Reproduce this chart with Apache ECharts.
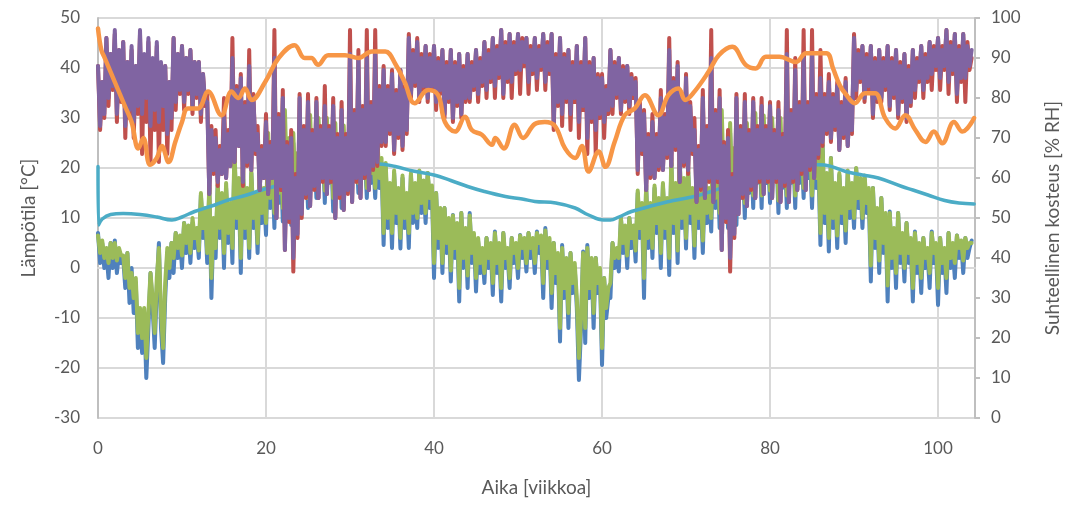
<!DOCTYPE html>
<html>
<head>
<meta charset="utf-8">
<script src="https://cdn.jsdelivr.net/npm/echarts@6/dist/echarts.min.js"></script>
<style>
  html, body { margin: 0; padding: 0; background: #ffffff; }
  #chart { width: 1080px; height: 507px; }
</style>
</head>
<body>
<div id="chart"></div>
<script>
// Time step of the dense series: four readings per week, weeks 0..104
const STEP_WEEKS = 0.25;

// Outdoor temperature [°C]; one row = ten weeks
const tempOut = [
  7,1,5,0, 3,-2,5,0, 5.5,-1,3,1, 2,-4,3,-7, 0,-9,-3,-16, -10,-17,-9,-22, -12,-1,-8,-16, -4,5,-12,-19, -6,3,-2,5, -1,7,2,6,
  0,9,3,8, 1,9,4,7, 2,14.6,6,11, 1,16,-6,9, 2,16.6,6,14, 0,16,5,12, 1,23,8,17, -1,20,6,15, 2,19,8,14, 3,17,9,15,
  6.6,25,12,20, 8,27,13,22, 9.3,27,14,24, 8.6,25,12,21, 10,26,15,22, 12,28,17,24, 14,27,18,25, 13,27,17,24, 11.3,26,16,23, 12,26,17,22,
  16,26,19,24, 15,25,18,23, 14,24,17,22, 14,24,16,21, 4.6,20,8,16, 4,19,9,15, 3.9,18,8,14, 4,18.6,9,16, 8,19.3,11,17, 9,19,12,16,
  -2,15,4,11, -1,12,3,9, -2.7,10.6,2,8, -6.7,11,0,7, -4,11,1,6, -4.7,5.3,-1,3, -3,6,0,4, -5.4,7.3,-1,4, -6.7,7,0,3, -4,6,1,4,
  -2,6.6,2,5, -0.7,7,2,5, -1,7.3,3,6, -6,8,0,5, -8,5,-3,2, -14.7,4.6,-6,1, -12,3,-5,0, -8,-22.4,-12,3.3, -15,4.6,-6,1, -12,2,-5,-1,
  -19.4,-2,-10,-6, -6,5,0,3, -0.7,10,3,8, 0,10,4,8, 1.3,15,6,12, -6,16.6,4,12, 2,16,7,13, 0,16.6,6,13, -1.4,21,7,16, 1,21.3,8,17,
  3.9,19.3,9,15, 2,17.3,8,14, 3,18,9,15, 7.3,25,12,21, 8,28,14,23, 8,27,13,22, 8.6,26,14,21, 10,27,15,23, 12,28,17,24, 12,27,17,23,
  13,27,18,24, 11,27,16,23, 12,28,17,24, 12,27,17,23, 14,26,18,23, 12,25,16,22, 4.6,24.6,9,18, 3.3,22,8,16, 4,18.6,9,15, 5,19,10,16,
  8,19.9,12,17, 8,18,11,15, -2.7,16,4,11, -1,14,3,10, -6.7,11.3,0,7, -4,11,1,6, -2.7,9,1,5, -6.7,7.3,-1,4, -5,6,0,3, -4,7.3,1,4,
  -7.4,6,-1,3, -5,7,0,4, -2,6.5,2,5, -1,6,2,4, 5.5
];

// Temperature of the ventilated space [°C]
const tempSpace = [
  6.5,3,5.5,2, 4,1,5,2, 5,1.5,4,2.5, 2.5,-2,3,-4, -1,-6,-2,-13, -8,-14,-8,-18, -9,-1,-6,-13, -2,4,-9,-16, -3,4,0,5, 2,7,4,6.5,
  2.5,9,5,8.5, 3,10,6,8, 3.5,15,8,12, 3,16.5,-2,10, 4,17,8,15, 3,17,7,13, 4,24,10,18, 2,21,8,16, 4,19.5,10,15, 5,18,11,16,
  9,27,14,22, 11,30,15,24, 12,31.6,17,26, 11,27,15,23, 13,28,17,24, 14,30.6,19,26, 16,30,20,27, 15.5,30,19,26, 14,29,18,25, 14.5,28.5,19,24,
  18,27.5,21,25, 17,27,20,24, 16,26,19,23, 16,26,18,22, 7,21,10,17, 7,19.5,11,16, 6,18.5,10,15, 7,19,11,17, 10,19.5,13,17.5, 11,19,14,16.5,
  1,15,6,12, 1,12,5,10, -0.5,10.5,4,9, -4,11,2,8, -1.5,10.5,3,7, -2,6,1,4, -1,6,2,5, -3,7,1,5, -4,7,2,4, -2,6,3,5,
  0,6.5,4,6, 1,7,4,6, 1,7,5,6.5, -3,7.5,2,6, -5,5,-1,3, -12,4,-4,2, -9,3,-3,1, -6,-18,-10,3, -12,4,-4,2, -9,2,-3,0,
  -16,-2,-8,-4, -3,5,2,4, 2,10,5,8.5, 2.5,10,6,8.5, 3.5,15.5,8,13, -2,16.5,6,13, 4,16.5,9,14, 3,17,8,14, 2,22,9,17, 3.5,22,10,18,
  6,20,11,16, 4.5,18,10,15, 5.5,19,11,16, 10,27,14,23, 11,31.6,16,25, 11,29,15,24, 11.5,28,16,23, 13,29,17,25, 14.5,31,19,26, 14.5,30.5,19,25,
  15.5,30,20,26, 13.5,30,18,25, 14.5,30.6,19,26, 14.5,29,19,25, 16,28,20,25, 14.5,27,18,24, 7,25,11,19, 6,22,10,17, 6.5,19,11,16, 7.5,19.5,12,17,
  10,20,14,18, 10,18.5,13,16, 0.5,16,6,12, 1.5,14,5,11, -3.5,11,2,8, -1,11,3,7, 0,9,3,6, -4,7,1,5, -2,6,2,4, -1,7,3,5,
  -4,6,1,4, -2,7,2,5, 1,6.5,4,5.5, 1.5,6,4,5, 5
];

// Outdoor relative humidity [% RH]
const rhOut = [
  88,72,84,75, 95,78,91,82, 96,74,92,79, 94,70,89,75, 92,70,88,76, 96,66,90,74, 94,64,89,72, 93,64,88,72, 88,66,84,72, 95,77,91,81,
  93,77,90,81, 92,76,89,80, 89,74,86,78, 81,56,73,61, 72,58,68,61, 80,60,72,63, 95,64,83,68, 86,58,79,63, 92,62,81,66, 73,57,68,60,
  76,56,69,60, 97,50,76,57, 82,42,69,49, 72,36.6,61,45, 81,50,73,55, 81,53,72,57, 80,55,73,59, 83,56,73,59, 80,50,71,55, 79,52,71,56,
  97,54,77,59, 92,55,78,60, 97,57,79,62, 97,63,83,68, 88,68,83,71, 87,66,82,70, 87,67,83,71, 96,80,92,83, 95,79,91,82, 93,79,91,82,
  93,77,90,81, 92,75,89,79, 92,74,89,78, 91,75,88,79, 91,79,89,82, 92,79,90,83, 94,80,92,84, 95,80,93,85, 97,80,94,84, 96,80,94,86,
  96,81,95,88, 95,81,93,86, 95,82,93,87, 96,82,94,86, 96,72,91,78, 95,73,91,79, 92,72,89,79, 93,70,89,77, 95,66,89,74, 90,66,86,75,
  86,70,83,76, 92,76,89,80, 90,76,88,79, 88,76,86,80, 85,61,79,66, 77,57,71,60, 76,60,71,62, 82,62,76,65, 95,63,85,67, 89,59,81,63,
  86,61,79,66, 75,54,68,57, 82,55,73,59, 97,54,77,59, 82,42,69,49, 72,36.6,61,45, 81,51,73,55, 81,53,72,57, 80,55,73,59, 80,56,73,59,
  79,55,72,59, 79,54,71,58, 97,54,77,59, 90,57,79,61, 97,57,79,62, 97,60,81,65, 92,68,81,71, 86,69,81,72, 84,67,79,70, 85,68,80,71,
  96,80,92,84, 93,79,91,82, 93,75,90,79, 92,79,90,82, 93,77,90,80, 92,75,89,79, 91,74,88,78, 92,80,90,84, 93,80,91,84, 94,82,93,87,
  95,82,93,87, 97,81,94,86, 96,79,93,84, 96,79,94,87, 90
];

// Relative humidity of the ventilated space [% RH]
const rhSpace = [
  88,73,84,76, 95,80,91,83, 97,76,92,80, 94,73,89,77, 93,74,88,78, 97,76,91,80, 95,73,90,77, 94,74,89,78, 88,71,84,75, 95,79,91,82,
  93,79,90,82, 92,78,89,81, 89,76,86,79, 79,56,72,62, 70,59,67,61, 75,60,71,63, 90,64,82,68, 85,59,78,64, 88,62,80,67, 71,57,67,60,
  74,56,68,60, 90,50,75,58, 80,42,68,50, 70,40,60,46, 80,51,72,56, 79,53,71,58, 79,55,72,60, 78,56,72,60, 78,50,70,56, 77,52,70,57,
  91,54,76,60, 90,55,77,61, 90,57,78,63, 91,64,82,69, 87,69,82,72, 86,67,81,71, 87,68,82,72, 95,81,91,84, 94,80,90,83, 93,80,90,83,
  93,79,89,82, 92,76,88,80, 92,75,88,79, 91,76,87,80, 91,80,88,83, 92,81,89,84, 94,82,91,85, 95,83,92,86, 97,81,93,85, 96,84,93,87,
  96,87,94,89, 95,84,92,87, 95,85,92,88, 96,84,93,87, 96,74,90,79, 95,76,90,80, 92,76,88,80, 93,74,88,78, 95,70,88,75, 90,72,85,76,
  85,74,82,77, 92,78,88,81, 90,77,87,80, 88,78,85,81, 84,62,78,67, 76,57,70,61, 74,60,70,63, 80,62,75,66, 92,63,84,68, 88,59,80,64,
  85,62,78,67, 72,54,67,58, 80,55,72,60, 90,54,76,60, 80,42,68,50, 70,40,60,46, 80,51,72,56, 79,53,71,58, 79,55,72,60, 78,56,72,60,
  78,55,71,60, 77,54,70,59, 91,54,76,60, 87,57,78,62, 90,57,78,63, 91,60,80,66, 85,69,80,72, 84,70,80,73, 83,67,78,71, 84,68,79,72,
  95,82,91,85, 93,80,90,83, 93,76,89,80, 92,80,89,83, 93,78,89,81, 92,76,88,80, 91,75,87,79, 92,82,89,85, 93,82,90,85, 94,86,92,88,
  95,85,92,88, 97,84,93,87, 96,81,92,85, 96,85,93,88, 92
];

// Structure temperature [°C] at given weeks
const structWeeks = [0,0.05,0.5,1.5,3,5,7,8.8,10,11.5,13.9,15.5,17.5,19.5,21.5,23.5,25.4,27.5,29.4,31.5,33.5,35.4,37.5,40,42,44,46,48.5,50.5,52,54.5,56.8,58.4,60.2,61,62,63.5,65,66.3,68.5,71,73,74.6,76.5,78.5,80.5,82.6,85,86.5,89,91,92.9,95.7,97,98.8,100.8,102.5,104.3];
const structTemp  = [20.3,8.6,9.8,10.7,10.9,10.7,10.2,9.6,10.2,11.3,12.6,13.6,14.5,15.6,16.6,18,19.3,20,20.3,20.6,20.8,20.3,19.4,18.6,17.5,16.3,15.3,14.3,13.8,13.3,13,12,10.6,9.6,9.6,10.2,11.3,12,12.6,13.5,14.3,15.3,16.3,17.7,19,19.7,20.1,20.7,20.6,19.3,18.6,18,16.3,15.6,14.6,13.5,13,12.8];

// Structure relative humidity [% RH] at given weeks
const structRhWeeks = [0,0.4,0.8,2,3.2,4,4.8,5.4,6.2,7,7.6,8.4,9.2,10,10.7,11.9,13.1,14.7,15.9,16.7,17.5,18.3,19.9,21.5,23.4,24.6,25.4,26.2,27.4,29.4,31,32.6,34.2,35.4,36.5,37.7,39.3,40.5,41.3,42.5,43.7,44.5,45.7,46.9,47.3,48.3,49.6,50.6,52,53.2,54.4,55.6,56.8,57.6,58.4,59.6,60.4,61.5,62.7,63.9,65.1,66.7,67.9,69.1,69.9,71,72.7,73.9,75.5,77.1,78.3,79.5,81.1,83.1,84.3,86.7,87.5,88.3,89,90.1,91.3,92.5,93.7,94.9,96.1,97.3,98.5,99.5,100.5,101.9,102.9,104.3];
const structRh = [97.4,92,90,84,78,74,67.4,70,63.3,65,68,64,69,74,77.4,77.4,81.6,75.7,81.6,80,82.4,79.5,84,90,93.2,90,90,88.3,90.7,90.7,90,91.6,91.6,88.5,84,78.7,82,80.7,74,71.6,75.3,72,70.8,68.3,70,67.4,73.3,70,73.5,74,73,67.4,65,68,61.6,66.6,62.8,69,75.7,77.4,80.7,75.7,80.7,82.4,79.5,81.6,86.6,90.7,92.8,88.3,87.4,90.3,90.3,89,91.2,91.2,87.4,83.2,81,78.7,81.2,81.2,75,72.4,75.7,72,69,71.6,68.7,74,71.6,75];

// Tick labels
const xTicks = ['0','20','40','60','80','100'];
const COLORS = {
  tempOut: '#4F81BD', rhOut: '#C0504D', tempSpace: '#9BBB59',
  rhSpace: '#8064A2', structT: '#4BACC6', structRh: '#F79646'
};

function stepped(values) {
  return values.map((v, i) => [i * STEP_WEEKS, v]);
}
function paired(xs, ys) {
  return ys.map((v, i) => [xs[i], v]);
}

const FONT = 'Lato, "Open Sans", sans-serif';
const TXT = '#595959';
const GRID = '#d9d9d9';

const chart = echarts.init(document.getElementById('chart'), null, { renderer: 'canvas' });

function lineSeries(name, data, color, yAxisIndex, width, smooth, z) {
  return {
    name, type: 'line', data, yAxisIndex, smooth,
    showSymbol: false, symbol: 'none',
    lineStyle: { color, width, cap: 'round', join: 'round' },
    itemStyle: { color },
    z, animation: false
  };
}

chart.setOption({
  animation: false,
  textStyle: { fontFamily: FONT },
  grid: { left: 98, right: 105, top: 18, bottom: 89 },
  xAxis: {
    type: 'value', min: 0, max: 104.4, interval: 20,
    name: 'Aika [viikkoa]', nameLocation: 'middle', nameGap: 60,
    nameTextStyle: { color: TXT, fontSize: 19, fontFamily: FONT },
    axisLine: { show: true, lineStyle: { color: GRID, width: 2 } },
    axisTick: { show: false },
    axisLabel: {
      color: TXT, fontSize: 17, margin: 22, showMaxLabel: false,
      formatter: v => xTicks[Math.round(v / 20)] ?? ''
    },
    splitLine: { show: true, lineStyle: { color: GRID, width: 2 } }
  },
  yAxis: [
    {
      type: 'value', min: -30, max: 50, interval: 10,
      name: 'Lämpötila [°C]', nameLocation: 'middle', nameGap: 60, nameRotate: 90,
      nameTextStyle: { color: TXT, fontSize: 19, fontFamily: FONT },
      axisLine: { show: true, lineStyle: { color: '#bfbfbf', width: 2 } },
      axisTick: { show: false },
      axisLabel: { color: TXT, fontSize: 17, margin: 18 },
      splitLine: { show: true, lineStyle: { color: GRID, width: 2 } }
    },
    {
      type: 'value', min: 0, max: 100, interval: 10, position: 'right',
      name: 'Suhteellinen kosteus [% RH]', nameLocation: 'middle', nameGap: 68, nameRotate: 90,
      nameTextStyle: { color: TXT, fontSize: 19, fontFamily: FONT },
      axisLine: { show: true, lineStyle: { color: '#bfbfbf', width: 2 } },
      axisTick: { show: true, inside: false, length: 5, lineStyle: { color: '#bfbfbf', width: 2 } },
      axisLabel: { color: TXT, fontSize: 17, margin: 16 },
      splitLine: { show: false }
    }
  ],
  series: [
    lineSeries('Ulkoilman lämpötila', stepped(tempOut), COLORS.tempOut, 0, 4, false, 1),
    lineSeries('Tilan lämpötila', stepped(tempSpace), COLORS.tempSpace, 0, 4, false, 2),
    lineSeries('Rakenteen lämpötila', paired(structWeeks, structTemp), COLORS.structT, 0, 3.5, 0.4, 3),
    lineSeries('Ulkoilman RH', stepped(rhOut), COLORS.rhOut, 1, 4, false, 4),
    lineSeries('Tilan RH', stepped(rhSpace), COLORS.rhSpace, 1, 4, false, 5),
    lineSeries('Rakenteen RH', paired(structRhWeeks, structRh), COLORS.structRh, 1, 4.5, 0.4, 6)
  ]
});
</script>
</body>
</html>
